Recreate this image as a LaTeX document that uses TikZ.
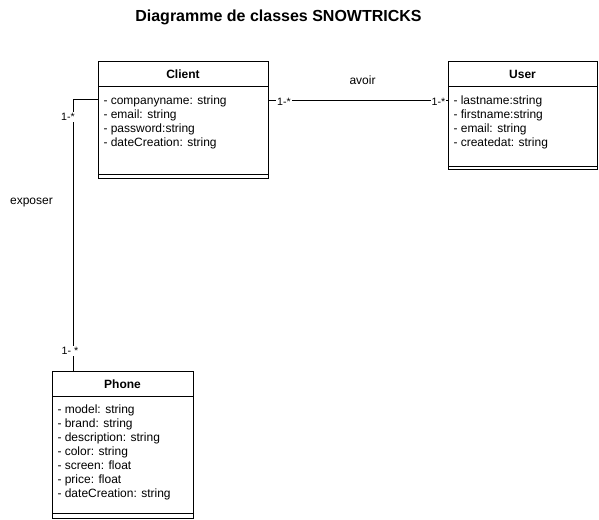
\documentclass[tikz,border=0pt]{standalone}
\usepackage{fontspec}
\setmainfont{Liberation Sans}
\begin{document}
\begin{tikzpicture}[x=0.75pt,y=-0.75pt,line width=0.75pt,
  classbox/.style={draw,anchor=north west,inner sep=0pt},
  attr/.style={anchor=base west,inner sep=0pt,font=\fontsize{9}{10.5}\selectfont},
  header/.style={anchor=base,inner sep=0pt,font=\bfseries\fontsize{9}{10.5}\selectfont},
  mult/.style={fill=white,inner sep=0.8pt,font=\fontsize{8}{9}\selectfont},
  rolelbl/.style={anchor=base,inner sep=0pt,font=\fontsize{9}{10.5}\selectfont}]
\useasboundingbox (0,0) rectangle (599,519);

% title
\node[anchor=base,inner sep=0pt,font=\bfseries\fontsize{12}{14}\selectfont] (title) at (278.5,21) {Diagramme de classes SNOWTRICKS};

% Client
\node[classbox,minimum width=127.5pt,minimum height=87.75pt] (client) at (98,61) {};
\draw (98,86) -- (268,86);
\draw (98,174) -- (268,174);
\node[header] (clientname) at (183,78) {Client};
\foreach \t [count=\i] in {{- companyname: string},{- email: string},{- password:string},{- dateCreation: string}}
  \node[attr] (ca\i) at (103,{104+14*(\i-1)}) {\t};

% User
\node[classbox,minimum width=111.75pt,minimum height=81pt] (user) at (448,61) {};
\draw (448,86) -- (597,86);
\draw (448,166) -- (597,166);
\node[header] (username) at (522.5,78) {User};
\foreach \t [count=\i] in {{- lastname:string},{- firstname:string},{- email: string},{- createdat: string}}
  \node[attr] (ua\i) at (453,{104+14*(\i-1)}) {\t};

% Phone
\node[classbox,minimum width=105.75pt,minimum height=110.25pt] (phone) at (52,371) {};
\draw (52,396) -- (193,396);
\draw (52,513) -- (193,513);
\node[header] (phonename) at (122.5,388) {Phone};
\foreach \t [count=\i] in {{- model: string},{- brand: string},{- description: string},{- color: string},{- screen: float},{- price: float},{- dateCreation: string}}
  \node[attr] (pa\i) at (57,{413+14*(\i-1)}) {\t};

% connectors
\draw ([yshift=-29.25pt]client.north east) -- ([yshift=-29.25pt]user.north west);
\draw ([yshift=-28.5pt]client.north west) -| ([xshift=15.75pt]phone.north west);

% labels
\node[rolelbl] (avoir) at (362.5,84) {avoir};
\node[rolelbl] (exposer) at (31.5,204) {exposer};
\node[mult] (m1) at (284,102) {1-*};
\node[mult] (m2) at (438.5,102) {1-*};
\node[mult] (m3) at (68,117) {1-*};
\node[mult] (m4) at (70,351) {1- *};
\end{tikzpicture}
\end{document}
